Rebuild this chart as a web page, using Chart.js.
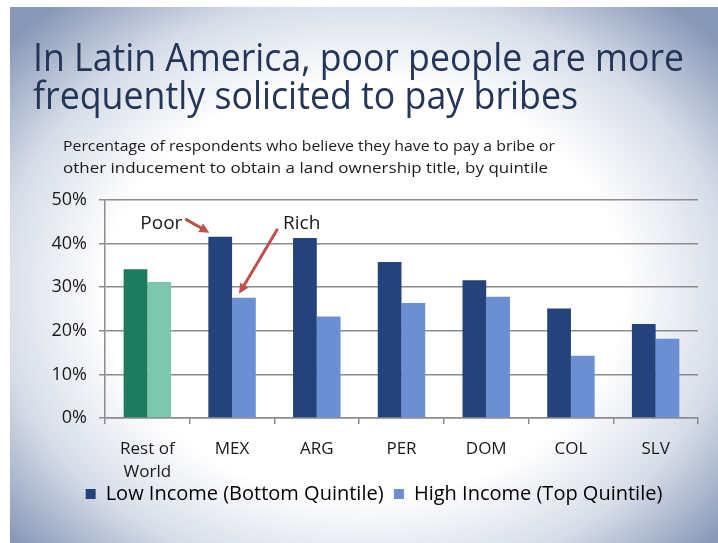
<!DOCTYPE html>
<html lang="en">
	<head>
		<meta charset="UTF-8" />
		<meta name="viewport" content="width=device-width, initial-scale=1.0" />
		<title>Bribes by income quintile</title>
		<script src="https://cdn.jsdelivr.net/npm/chart.js"></script>
		<style>
			html,
			body {
				margin: 0;
				padding: 0;
				background: #ffffff;
			}
			#wrap {
				position: relative;
				width: 718px;
				height: 543px;
			}
		</style>
	</head>

	<body>
		<div id="wrap"><canvas id="myChart"></canvas></div>
	</body>
	<script>
		// countries, first one is the global comparison group
		const categories = [["Rest of", "World"], "MEX", "ARG", "PER", "DOM", "COL", "SLV"];
		// % of respondents, bottom quintile
		const lowIncome = [34.1, 41.6, 41.3, 35.8, 31.6, 25.1, 21.6];
		// % of respondents, top quintile
		const highIncome = [31.2, 27.6, 23.3, 26.4, 27.8, 14.3, 18.2];
		const yTicks = [0, 10, 20, 30, 40, 50];

		const seriesNames = ["Low Income (Bottom Quintile)", "High Income (Top Quintile)"];
		const titleLines = ["In Latin America, poor people are more", "frequently solicited to pay bribes"];
		const subtitleLines = [
			"Percentage of respondents who believe they have to pay a bribe or",
			"other inducement to obtain a land ownership title, by quintile",
		];

		const NAVY = "#24427b";
		const LIGHT_BLUE = "#6b8fd3";
		const GREEN = "#1d7b5e";
		const LIGHT_GREEN = "#7cc7ae";
		const FONT = "'Open Sans', 'DejaVu Sans', sans-serif";

		// rest of world is drawn in greens
		const lowColors = categories.map((c, i) => (i === 0 ? GREEN : NAVY));
		const highColors = categories.map((c, i) => (i === 0 ? LIGHT_GREEN : LIGHT_BLUE));

		// slide background: white margin, then soft blue-grey vignette
		const slideBackground = {
			id: "slideBackground",
			beforeDraw(chart) {
				const ctx = chart.ctx;
				const w = chart.width;
				const h = chart.height;
				ctx.save();
				ctx.fillStyle = "#ffffff";
				ctx.fillRect(0, 0, w, h);
				const cx = 364;
				const cy = 290;
				ctx.translate(cx, cy);
				ctx.scale(1, 0.8);
				const g = ctx.createRadialGradient(0, 0, 0, 0, 0, 470);
				g.addColorStop(0, "#ffffff");
				g.addColorStop(0.55, "#ffffff");
				g.addColorStop(0.78, "#d6dce8");
				g.addColorStop(1, "#8898b8");
				ctx.fillStyle = g;
				ctx.fillRect(10 - cx, (7 - cy) / 0.8, w, h / 0.8);
				ctx.restore();
			},
		};

		// draws a line of text stretched or squeezed to an exact width
		function fitText(ctx, text, x, y, width) {
			const natural = ctx.measureText(text).width;
			ctx.save();
			ctx.translate(x, y);
			ctx.scale(width / natural, 1);
			ctx.fillText(text, 0, 0);
			ctx.restore();
		}

		// big slide title and the small chart caption
		const slideText = {
			id: "slideText",
			afterDraw(chart) {
				const ctx = chart.ctx;
				ctx.save();
				ctx.textBaseline = "alphabetic";
				ctx.textAlign = "left";
				ctx.fillStyle = "#23365a";
				ctx.font = "38px " + FONT;
				fitText(ctx, titleLines[0], 33, 71, 651);
				fitText(ctx, titleLines[1], 33, 109, 545);
				ctx.fillStyle = "#1a1a1a";
				ctx.font = "15px " + FONT;
				fitText(ctx, subtitleLines[0], 63, 151, 492);
				fitText(ctx, subtitleLines[1], 63, 173, 485);
				ctx.restore();
			},
		};

		function drawArrow(ctx, x0, y0, x1, y1) {
			const a = Math.atan2(y1 - y0, x1 - x0);
			const head = 11;
			ctx.beginPath();
			ctx.moveTo(x0, y0);
			ctx.lineTo(x1 - Math.cos(a) * head * 0.8, y1 - Math.sin(a) * head * 0.8);
			ctx.stroke();
			ctx.beginPath();
			ctx.moveTo(x1, y1);
			ctx.lineTo(x1 - head * Math.cos(a - 0.45), y1 - head * Math.sin(a - 0.45));
			ctx.lineTo(x1 - head * Math.cos(a + 0.45), y1 - head * Math.sin(a + 0.45));
			ctx.closePath();
			ctx.fill();
		}

		// "Poor" / "Rich" callouts pointing at the MEX bars
		const callouts = {
			id: "callouts",
			afterDatasetsDraw(chart) {
				const ctx = chart.ctx;
				const poorBar = chart.getDatasetMeta(0).data[1];
				const richBar = chart.getDatasetMeta(1).data[1];
				ctx.save();
				ctx.strokeStyle = "#bf504c";
				ctx.fillStyle = "#bf504c";
				ctx.lineWidth = 3;
				ctx.lineCap = "round";

				const px = poorBar.x - poorBar.width / 2 + 1;
				const py = poorBar.y - 4;
				drawArrow(ctx, px - 23, py - 13, px, py);

				const rx = richBar.x - richBar.width / 2 + 7;
				const ry = richBar.y - 4;
				drawArrow(ctx, rx + 38, ry - 64, rx, ry);

				ctx.fillStyle = "#1a1a1a";
				ctx.font = "19px " + FONT;
				ctx.textBaseline = "alphabetic";
				ctx.textAlign = "right";
				ctx.fillText("Poor", px - 27, py - 4);
				ctx.textAlign = "left";
				ctx.fillText("Rich", rx + 44, ry - 65);
				ctx.restore();
			},
		};

		const ctx = document.getElementById("myChart");

		const myChart = new Chart(ctx, {
			type: "bar",
			data: {
				labels: categories,
				datasets: [
					{
						label: seriesNames[0],
						data: lowIncome,
						backgroundColor: lowColors,
						legendColor: NAVY,
						legendGap: "  ",
					},
					{
						label: seriesNames[1],
						data: highIncome,
						backgroundColor: highColors,
						legendColor: LIGHT_BLUE,
						legendGap: "",
					},
				],
			},
			plugins: [slideBackground, callouts, slideText],
			options: {
				responsive: true,
				maintainAspectRatio: false,
				animation: false,
				devicePixelRatio: 1,
				layout: {
					padding: { left: 50, right: 20, top: 200, bottom: 29 },
				},
				datasets: {
					bar: {
						categoryPercentage: 0.56,
						barPercentage: 1,
					},
				},
				plugins: {
					tooltip: { enabled: false },
					legend: {
						position: "bottom",
						labels: {
							color: "#1a1a1a",
							font: { family: FONT, size: 20 },
							boxWidth: 10,
							boxHeight: 10,
							padding: 0,
							generateLabels(chart) {
								return chart.data.datasets.map((ds, i) => ({
									text: ds.label + ds.legendGap,
									fillStyle: ds.legendColor,
									strokeStyle: ds.legendColor,
									lineWidth: 0,
									hidden: false,
									datasetIndex: i,
								}));
							},
						},
					},
				},
				scales: {
					x: {
						grid: {
							offset: true,
							drawOnChartArea: false,
							tickLength: 6,
							color: "#8c8c8c",
							lineWidth: 1.5,
						},
						border: { color: "#8c8c8c", width: 1.5 },
						ticks: {
							color: "#1a1a1a",
							font: { family: FONT, size: 17, lineHeight: 1.35 },
							padding: 14,
							maxRotation: 0,
						},
						afterFit(scale) {
							scale.height -= 14;
						},
					},
					y: {
						min: 0,
						max: 50,
						afterBuildTicks(scale) {
							scale.ticks = yTicks.map((v) => ({ value: v }));
						},
						afterFit(scale) {
							scale.width = 55;
						},
						grid: {
							color: "#8c8c8c",
							lineWidth: 1.5,
							tickLength: 6,
						},
						border: { color: "#8c8c8c", width: 1.5 },
						ticks: {
							color: "#1a1a1a",
							font: { family: FONT, size: 18 },
							padding: 12,
							callback: (v) => v + "%",
						},
					},
				},
			},
		});
	</script>
</html>
